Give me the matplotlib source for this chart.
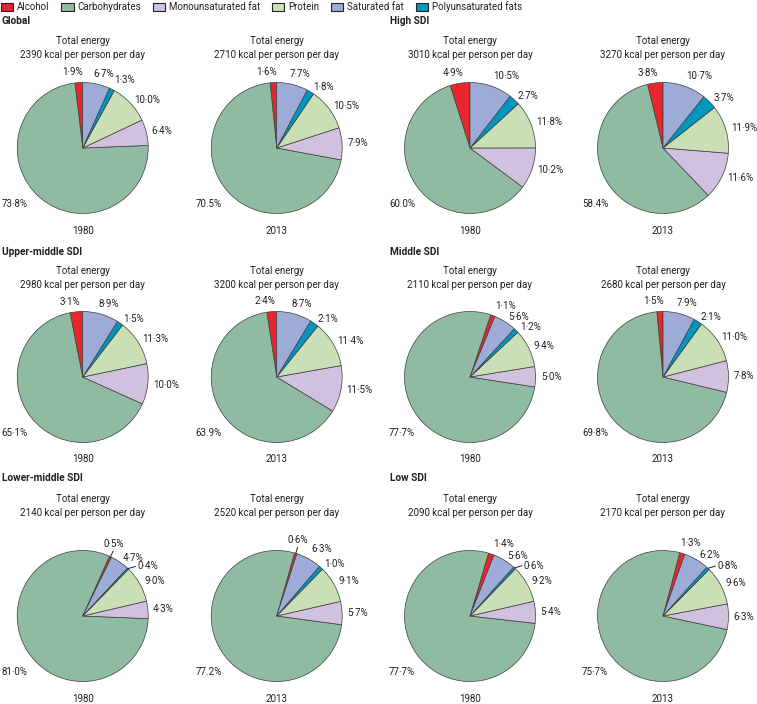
import numpy as np
import matplotlib
matplotlib.use("Agg")
import matplotlib.pyplot as plt
from matplotlib.patches import Rectangle

# ---------------- data ----------------
regions = ["Global", "High SDI", "Upper-middle SDI", "Middle SDI", "Lower-middle SDI", "Low SDI"]
years = ["1980", "2013"]
components = ["Alcohol", "Carbohydrates", "Monounsaturated fat", "Protein",
              "Saturated fat", "Polyunsaturated fats"]

energy_1980 = [2390, 3010, 2980, 2110, 2140, 2090]
energy_2013 = [2710, 3270, 3200, 2680, 2520, 2170]

alcohol_1980 = [1.9, 4.9, 3.1, 1.1, 0.5, 1.4]
alcohol_2013 = [1.6, 3.8, 2.4, 1.5, 0.6, 1.3]
carb_1980 = [73.8, 60.0, 65.1, 77.7, 81.0, 77.7]
carb_2013 = [70.5, 58.4, 63.9, 69.8, 77.2, 75.7]
mono_1980 = [6.4, 10.2, 10.0, 5.0, 4.3, 5.4]
mono_2013 = [7.9, 11.6, 11.5, 7.8, 5.7, 6.3]
protein_1980 = [10.0, 11.8, 11.3, 9.4, 9.0, 9.2]
protein_2013 = [10.5, 11.9, 11.4, 11.0, 9.1, 9.6]
sat_1980 = [6.7, 10.5, 8.9, 5.6, 4.7, 5.6]
sat_2013 = [7.7, 10.7, 8.7, 7.9, 6.3, 6.2]
poly_1980 = [1.3, 2.7, 1.5, 1.2, 0.4, 0.6]
poly_2013 = [1.8, 3.7, 2.1, 2.1, 1.0, 0.8]

# decimal separator used in the carbohydrate labels of the original
carb_sep_1980 = ["·", ".", "·", "·", "·", "·"]
carb_sep_2013 = [".", ".", ".", "·", ".", "·"]

# ---------------- style ----------------
colors = {
    "Alcohol": "#e8262b",
    "Carbohydrates": "#8fbba2",
    "Monounsaturated fat": "#d1c1df",
    "Protein": "#cadfb6",
    "Saturated fat": "#9dabd7",
    "Polyunsaturated fats": "#0097bf",
}
pie_order = ["Alcohol", "Carbohydrates", "Monounsaturated fat", "Protein",
             "Polyunsaturated fats", "Saturated fat"]
start_1980 = [90, 90, 90, 67.6, 64.0, 68.5]
start_2013 = [90, 90, 90, 90, 72.0, 70.5]

TXT = "#231f20"
EDGE = "#3c3c3c"
plt.rcParams["font.family"] = ["Roboto", "DejaVu Sans"]

W, H = 757, 704
fig = plt.figure(figsize=(W / 100, H / 100), dpi=100)
fig.patch.set_facecolor("white")


def fx(x):
    return x / W


def fy(y):
    return 1 - y / H


R_PX = 65.5
S_PX = 240
LIM = S_PX / (2 * R_PX)

col_cx = [(82.7, 276.7), (470.0, 663.0)]
sec_x = [2, 390]
row_cy = [148, 377, 616]
row_sec_y = [21, 252, 478]
row_tot_y = [41, 271, 499.5]
row_year_y = [231, 458.5, 699]
FS = 7.0


def fmt(v, sep="·"):
    return f"{v:.1f}".replace(".", sep) + "%"


def draw_pie(cx, cy, values, start, carb_sep):
    ax = fig.add_axes([fx(cx - S_PX / 2), fy(cy + S_PX / 2), S_PX / W, S_PX / H])
    ax.axis("off")
    vals = [values[k] for k in pie_order]
    ax.pie(vals, colors=[colors[k] for k in pie_order], startangle=start,
           counterclock=True, radius=1.0,
           wedgeprops=dict(edgecolor=EDGE, linewidth=0.5))
    ax.set_xlim(-LIM, LIM)
    ax.set_ylim(-LIM, LIM)
    total = sum(vals)
    cum = 0.0
    for k, v in zip(pie_order, vals):
        mid = np.deg2rad(start + (cum + v / 2) / total * 360)
        cum += v
        c, s = np.cos(mid), np.sin(mid)
        if k == "Carbohydrates":
            ax.text(-1.04, -0.85, fmt(v, carb_sep), ha="center", va="center",
                    fontsize=FS, color=TXT, clip_on=False)
            continue
        va = "bottom" if s > 0.87 else ("top" if s < -0.87 else "center")
        if v < 1.0:
            if s > 0.85:
                # nearly vertical leader up to a centred label
                ax.plot([c, 1.1 * c], [s, 1.1 * s], color=TXT, lw=0.7,
                        clip_on=False, solid_capstyle="butt")
                x, y, ha = 1.13 * c, 1.13 * s, "center"
            else:
                # short flat leader out to the right
                ax.plot([c, c + 0.12], [s, s + 0.035], color=TXT, lw=0.7,
                        clip_on=False, solid_capstyle="butt")
                x, y, ha, va = c + 0.14, s + 0.035, "left", "center"
        else:
            r = 1.08
            x, y = r * c, r * s
            if c > 0.3:
                ha = "left"
            elif c < -0.3:
                ha = "right"
            elif c >= 0:
                ha, x = "left", x - 0.06
            else:
                ha, x = "right", x + 0.06
        ax.text(x, y, fmt(v), ha=ha, va=va, fontsize=FS, color=TXT,
                clip_on=False)


for i, reg in enumerate(regions):
    row, col = divmod(i, 2)
    fig.text(fx(sec_x[col]), fy(row_sec_y[row]), reg, fontsize=7.3,
             fontweight="bold", color=TXT, ha="left", va="center")
    for j, yr in enumerate(years):
        cx = col_cx[col][j]
        cy = row_cy[row]
        energy = (energy_1980 if j == 0 else energy_2013)[i]
        vals = {
            "Alcohol": (alcohol_1980 if j == 0 else alcohol_2013)[i],
            "Carbohydrates": (carb_1980 if j == 0 else carb_2013)[i],
            "Monounsaturated fat": (mono_1980 if j == 0 else mono_2013)[i],
            "Protein": (protein_1980 if j == 0 else protein_2013)[i],
            "Saturated fat": (sat_1980 if j == 0 else sat_2013)[i],
            "Polyunsaturated fats": (poly_1980 if j == 0 else poly_2013)[i],
        }
        start = (start_1980 if j == 0 else start_2013)[i]
        sep = (carb_sep_1980 if j == 0 else carb_sep_2013)[i]
        draw_pie(cx, cy, vals, start, sep)
        fig.text(fx(cx), fy(row_tot_y[row]), "Total energy", fontsize=FS,
                 color=TXT, ha="center", va="center")
        fig.text(fx(cx), fy(row_tot_y[row] + 13.8), f"{energy} kcal per person per day",
                 fontsize=FS, color=TXT, ha="center", va="center")
        fig.text(fx(cx), fy(row_year_y[row]), yr, fontsize=FS, color=TXT,
                 ha="center", va="center")

# ---------------- legend ----------------
fig.canvas.draw()
renderer = fig.canvas.get_renderer()
x = 0.5
ly = 6.5
for name in components:
    rect = Rectangle((fx(x), fy(ly + 4)), 12.5 / W, 8 / H, transform=fig.transFigure,
                     facecolor=colors[name], edgecolor="#222222", linewidth=0.8)
    fig.patches.append(rect)
    t = fig.text(fx(x + 16), fy(ly), name, fontsize=FS, color=TXT, ha="left", va="center")
    bb = t.get_window_extent(renderer=renderer)
    x = x + 16 + bb.width + 12

fig.savefig("out.png", dpi=100, facecolor="white")
